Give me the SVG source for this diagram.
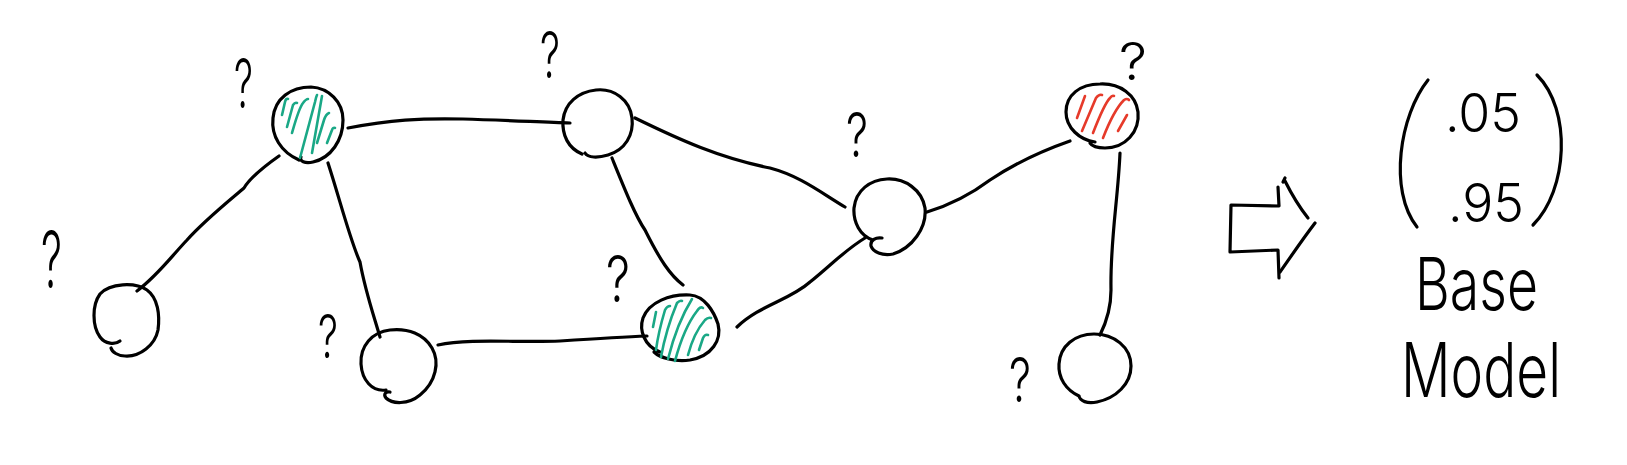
<svg xmlns="http://www.w3.org/2000/svg" width="1627" height="465" viewBox="0 0 1627 465">
<style>
.ink{fill:none;stroke:#000;stroke-width:3.2;stroke-linecap:round;stroke-linejoin:round}
.g{fill:none;stroke:#1aa886;stroke-width:2.6;stroke-linecap:round}
.r{fill:none;stroke:#e63a2a;stroke-width:2.6;stroke-linecap:round}
.q{font-family:Inter,"Liberation Sans",sans-serif;font-weight:300;fill:#000}
.t{font-family:Inter,"Liberation Sans",sans-serif;font-weight:300;fill:#000}
</style>
<rect width="1627" height="465" fill="#fff"/>
<g id="connectors">
<path class="ink" d="M279 156 C262 168 250 178 244 188 C230 200 205 220 187 240 C170 258 158 275 137 291"/>
<path class="ink" d="M328 163 C340 200 350 240 360 262 C365 290 372 310 380 337"/>
<path class="ink" d="M348 128 C390 120 420 118 463 119 C500 120 540 122 570 123"/>
<path class="ink" d="M635 118 C680 140 720 158 770 168 C800 176 820 192 845 207"/>
<path class="ink" d="M612 158 C625 190 635 215 645 230 C660 260 670 275 683 285"/>
<path class="ink" d="M438 345 C470 338 520 343 560 341 C590 339 620 337 647 336"/>
<path class="ink" d="M737 327 C760 305 790 300 810 282 C830 266 845 250 865 238"/>
<path class="ink" d="M927 212 C950 205 970 195 990 180 C1020 160 1050 148 1070 141"/>
<path class="ink" d="M1120 153 C1118 200 1110 240 1111 290 C1111 310 1105 325 1100 335"/>
</g>
<g id="nodeA">
<path class="ink" d="M299 160 C281 152 271 136 273 118 C275 98 291 87 311 87 C329 88 343 102 343 120 C343 140 331 158 313 162 C305 164 299 161 301 157"/>
<path class="g" d="M282 115 L285 102 Q286 98 288 99"/>
<path class="g" d="M287 127 L293 105 Q295 102 297 103"/>
<path class="g" d="M292 133 C296 119 299 108 303 103 Q306 99 308 99"/>
<path class="g" d="M300 158 L315 102 Q316 97 317 95"/>
<path class="g" d="M312 153 L322 96"/>
<path class="g" d="M317 143 L324 120 Q326 114 329 113"/>
<path class="g" d="M327 143 L332 130 Q333 127 335 128"/>
<text class="q" x="234" y="108" font-size="68" textLength="19" lengthAdjust="spacingAndGlyphs">?</text>
</g>
<g id="nodeB">
<path class="ink" d="M120 341 C115 345 105 344 100 337 C92 326 92 305 100 294 C110 283 135 282 147 290 C158 298 160 315 158 330 C155 345 140 357 125 356 C118 356 112 352 111 348"/>
<text class="q" x="41" y="288" font-size="78" textLength="21" lengthAdjust="spacingAndGlyphs">?</text>
</g>
<g id="nodeC">
<path class="ink" d="M386 390 C372 392 362 380 361 364 C360 346 372 332 390 330 C408 328 424 334 432 348 C440 362 436 382 420 395 C408 405 392 404 386 398 C383 394 386 391 390 392"/>
<text class="q" x="318" y="358" font-size="60" textLength="20" lengthAdjust="spacingAndGlyphs">?</text>
</g>
<g id="nodeD">
<path class="ink" d="M582 154 C568 148 562 135 563 120 C565 103 578 92 596 90 C614 88 630 100 632 118 C634 135 625 150 608 155 C598 158 588 158 585 153"/>
<text class="q" x="540" y="78" font-size="64" textLength="20" lengthAdjust="spacingAndGlyphs">?</text>
</g>
<g id="nodeF">
<path class="ink" d="M660 352 C644 346 639 330 643 318 C649 302 670 294 690 295 C705 296 714 312 718 324 C722 340 712 356 690 360 C675 362 660 358 654 352"/>
<path class="g" d="M653 327 L656 312"/>
<path class="g" d="M656 350 C658 335 662 320 665 310 Q667 306 670 306"/>
<path class="g" d="M661 357 C665 335 672 315 677 303 Q680 300 682 301"/>
<path class="g" d="M668 359 C674 335 682 315 692 299"/>
<path class="g" d="M675 361 C682 335 690 320 697 311 Q700 306 703 308"/>
<path class="g" d="M688 355 C692 340 698 328 705 320 Q708 317 711 318"/>
<path class="g" d="M699 350 L703 338 Q705 334 708 335"/>
<text class="q" x="606" y="302" font-size="64" textLength="24" lengthAdjust="spacingAndGlyphs">?</text>
</g>
<g id="nodeE">
<path class="ink" d="M873 240 C860 236 853 222 854 208 C856 190 870 180 887 179 C905 178 922 190 925 208 C927 228 912 248 893 254 C882 256 873 252 871 246 C870 240 876 237 882 238"/>
<text class="q" x="846" y="157" font-size="62" textLength="22" lengthAdjust="spacingAndGlyphs">?</text>
</g>
<g id="nodeG">
<path class="ink" d="M1095 142 C1080 140 1066 128 1066 112 C1066 95 1080 84 1100 84 C1120 83 1136 95 1138 112 C1140 132 1125 148 1105 148 C1098 148 1092 146 1090 143"/>
<path class="r" d="M1077 118 L1085 96"/>
<path class="r" d="M1082 131 L1096 98 Q1099 94 1102 95"/>
<path class="r" d="M1093 133 C1100 115 1106 102 1110 98 Q1112 95 1114 96"/>
<path class="r" d="M1103 138 C1110 120 1118 106 1124 100 Q1127 98 1129 100"/>
<path class="r" d="M1118 131 L1127 115"/>
<text class="q" x="1119" y="80" font-size="52" textLength="28" lengthAdjust="spacingAndGlyphs">?</text>
</g>
<g id="nodeH">
<path class="ink" d="M1079 396 C1066 390 1058 378 1059 364 C1060 346 1075 334 1094 334 C1114 334 1131 347 1131 366 C1131 384 1116 398 1097 402 C1087 404 1080 401 1079 396"/>
<text class="q" x="1009" y="402" font-size="62" textLength="22" lengthAdjust="spacingAndGlyphs">?</text>
</g>
<g id="arrow">
<path class="ink" d="M1278 187 L1279 206 L1231 205 L1230 252 L1278 250 L1279 278"/>
<path class="ink" d="M1283 182 L1285 178 M1285 181 C1292 195 1300 208 1308 218"/>
<path class="ink" d="M1315 223 C1302 240 1292 255 1280 272"/>
</g>
<g id="output">
<path class="ink" d="M1428 80 C1400 115 1388 190 1417 227"/>
<path class="ink" d="M1537 75 C1572 110 1568 190 1533 225"/>
<text class="t" x="1445" y="132" font-size="54" textLength="76" lengthAdjust="spacingAndGlyphs">.05</text>
<text class="t" x="1448" y="222" font-size="54" textLength="76" lengthAdjust="spacingAndGlyphs">.95</text>
<text class="t" x="1415" y="310" font-size="73" textLength="123" lengthAdjust="spacingAndGlyphs">Base</text>
<text class="t" x="1401" y="397" font-size="75" textLength="160" lengthAdjust="spacingAndGlyphs">Model</text>
</g>
</svg>
